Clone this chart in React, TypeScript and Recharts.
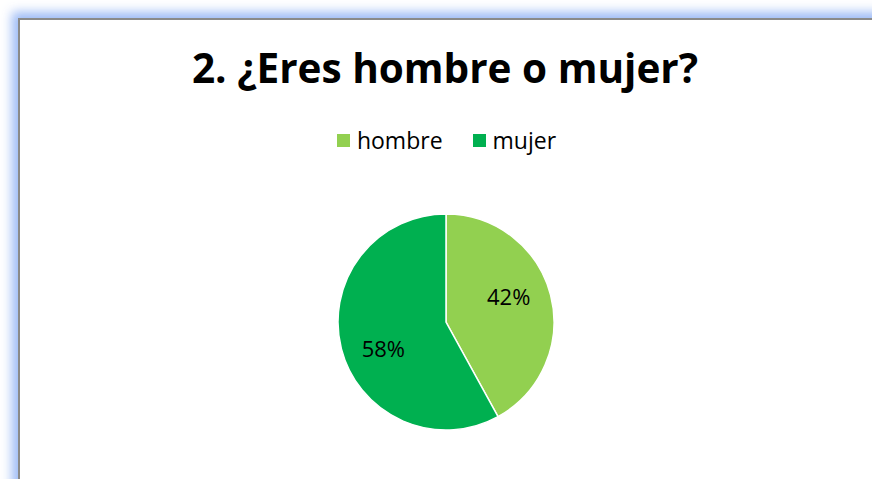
import React from 'react';
import { PieChart, Pie, Cell } from 'recharts';

const categories = ['hombre', 'mujer'];
const shares = [42, 58];
const colors = ['#92D050', '#00B050'];

const data = categories.map((name, i) => ({ name, value: shares[i] }));

const FONT = '"Open Sans", "Liberation Sans", sans-serif';
const RADIAN = Math.PI / 180;

// Excel's "best fit" puts the labels a little off the slice middle
const renderLabel = (props: any) => {
  const { cx, cy, midAngle, outerRadius, value } = props;
  const r = outerRadius * 0.63;
  const a = (midAngle + 8.5) * RADIAN;
  const x = cx + r * Math.cos(-a);
  const y = cy + r * Math.sin(-a);
  return (
    <text
      x={x}
      y={y}
      fill="#000"
      fontSize={22}
      fontFamily={FONT}
      textAnchor="middle"
      dominantBaseline="central"
    >
      {`${value}%`}
    </text>
  );
};

export default function App() {
  return (
    <div
      style={{
        position: 'absolute',
        top: 0,
        left: 0,
        width: 872,
        height: 479,
        overflow: 'hidden',
        background: '#fff',
      }}
    >
      <div
        style={{
          position: 'absolute',
          left: 18,
          top: 18,
          width: 860,
          height: 480,
          border: '2px solid #8a8a8a',
          boxShadow: '0 0 10px 6px rgba(140, 175, 245, 0.85)',
          background: '#fff',
        }}
      />
      <div
        style={{
          position: 'absolute',
          left: 0,
          top: 40,
          width: 890,
          textAlign: 'center',
          fontFamily: FONT,
          fontWeight: 700,
          fontSize: 40.5,
          color: '#000',
          lineHeight: '56px',
        }}
      >
        2. ¿Eres hombre o mujer?
      </div>
      {/* legend */}
      <div
        style={{
          position: 'absolute',
          left: 0,
          top: 126,
          width: 893,
          display: 'flex',
          justifyContent: 'center',
          fontFamily: FONT,
          fontSize: 23,
          color: '#000',
          lineHeight: '28px',
        }}
      >
        {categories.map((name, i) => (
          <div key={name} style={{ display: 'flex', alignItems: 'center', marginRight: i === 0 ? 30 : 0 }}>
            <span style={{ width: 13, height: 13, background: colors[i], marginRight: 7, display: 'inline-block' }} />
            <span>{name}</span>
          </div>
        ))}
      </div>
      <div style={{ position: 'absolute', left: 0, top: 0 }}>
        <PieChart width={872} height={479} margin={{ top: 0, right: 0, bottom: 0, left: 0 }}>
          <Pie
            data={data}
            dataKey="value"
            nameKey="name"
            cx={446}
            cy={322}
            outerRadius={108}
            startAngle={90}
            endAngle={-270}
            stroke="#fff"
            strokeWidth={1.5}
            label={renderLabel}
            labelLine={false}
            isAnimationActive={false}
          >
            {data.map((d, i) => (
              <Cell key={d.name} fill={colors[i]} />
            ))}
          </Pie>
        </PieChart>
      </div>
    </div>
  );
}
